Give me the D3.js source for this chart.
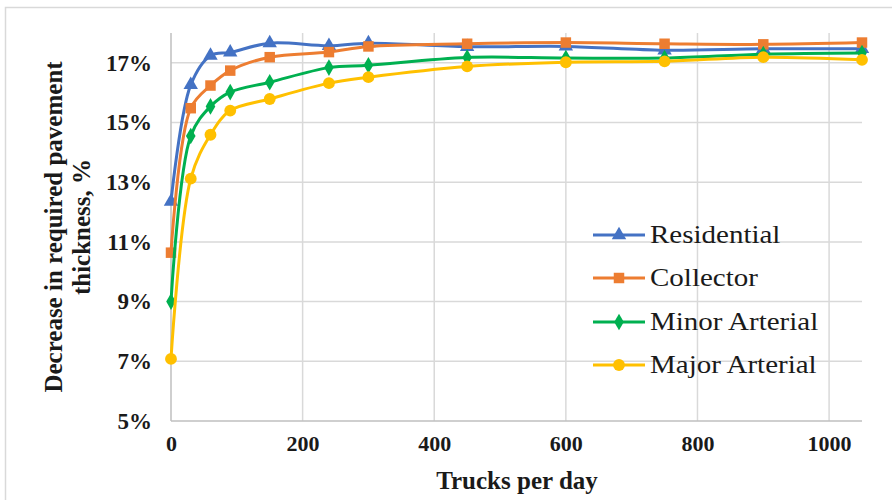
<!DOCTYPE html>
<html>
<head>
<meta charset="utf-8">
<script src="https://cdn.jsdelivr.net/npm/d3@7"></script>
<style>
  html, body { margin: 0; padding: 0; background: #fff; }
  svg { display: block; }
  text { font-family: "Liberation Serif", "Times New Roman", serif; }
</style>
</head>
<body>
<svg id="chart" width="892" height="500"></svg>
<script>
// ---- data ----
const trucks = [0, 30, 60, 90, 150, 240, 300, 450, 600, 750, 900, 1050];
const seriesNames = ["Residential", "Collector", "Minor Arterial", "Major Arterial"];
const residential   = [12.35, 16.26, 17.24, 17.35, 17.66, 17.57, 17.66, 17.54, 17.55, 17.42, 17.47, 17.47];
const collector     = [10.64, 15.48, 16.24, 16.74, 17.19, 17.36, 17.55, 17.64, 17.68, 17.64, 17.62, 17.68];
const minorArterial = [9.00, 14.55, 15.54, 16.02, 16.35, 16.84, 16.92, 17.18, 17.16, 17.16, 17.29, 17.33];
const majorArterial = [7.08, 13.12, 14.59, 15.40, 15.79, 16.32, 16.52, 16.88, 17.02, 17.05, 17.19, 17.10];
const yTicks = [5, 7, 9, 11, 13, 15, 17];
const xTicks = [0, 200, 400, 600, 800, 1000];

const allValues = [residential, collector, minorArterial, majorArterial];
const colors = ["#4472C4", "#ED7D31", "#00B050", "#FFC000"];
const markers = [d3.symbolTriangle, d3.symbolSquare, d3.symbolDiamond, d3.symbolCircle];
const markerSizes = [90, 110, 80, 110];

const svg = d3.select("#chart");

// chart border
svg.append("rect").attr("x", 5.5).attr("y", 7.5).attr("width", 920).attr("height", 520)
  .attr("fill", "none").attr("stroke", "#d9d9d9").attr("stroke-width", 1.5);

const x = d3.scaleLinear().domain([0, 1050]).range([171, 862]);
const y = d3.scaleLinear().domain([5, 18]).range([421, 33]);

// gridlines
svg.append("g").selectAll("line.h").data(yTicks.slice(1)).join("line")
  .attr("x1", x(0)).attr("x2", x(1050)).attr("y1", d => y(d)).attr("y2", d => y(d))
  .attr("stroke", "#d9d9d9").attr("stroke-width", 1.5);
svg.append("g").selectAll("line.v").data(xTicks.slice(1)).join("line")
  .attr("x1", d => x(d)).attr("x2", d => x(d)).attr("y1", y(5)).attr("y2", y(18))
  .attr("stroke", "#d9d9d9").attr("stroke-width", 1.5);

// axes lines
svg.append("line").attr("x1", x(0)).attr("x2", x(0)).attr("y1", y(5)).attr("y2", y(18))
  .attr("stroke", "#bfbfbf").attr("stroke-width", 1.5);
svg.append("line").attr("x1", x(0)).attr("x2", x(1050)).attr("y1", y(5)).attr("y2", y(5))
  .attr("stroke", "#bfbfbf").attr("stroke-width", 1.5);

// tick labels
const yAxis = d3.axisLeft(y).tickValues(yTicks).tickFormat(d => d + "%").tickSize(0).tickPadding(19);
const gy = svg.append("g").attr("transform", `translate(${x(0)},0)`).call(yAxis);
gy.select(".domain").remove();
gy.selectAll("text").attr("font-family", "Liberation Serif").attr("font-weight", "bold")
  .attr("font-size", 23).attr("fill", "#1a1a1a");

const xAxis = d3.axisBottom(x).tickValues(xTicks).tickFormat(d3.format("d")).tickSize(0).tickPadding(14);
const gx = svg.append("g").attr("transform", `translate(0,${y(5)})`).call(xAxis);
gx.select(".domain").remove();
gx.selectAll("text").attr("font-family", "Liberation Serif").attr("font-weight", "bold")
  .attr("font-size", 22).attr("fill", "#1a1a1a");

// axis titles
svg.append("text").attr("x", 517).attr("y", 489).attr("text-anchor", "middle")
  .attr("font-family", "Liberation Serif").attr("font-weight", "bold").attr("font-size", 25)
  .attr("fill", "#1a1a1a").text("Trucks per day");
const yt = svg.append("text").attr("transform", "translate(0,227) rotate(-90)")
  .attr("text-anchor", "middle").attr("font-family", "Liberation Serif").attr("font-weight", "bold")
  .attr("font-size", 25).attr("fill", "#1a1a1a");
yt.append("tspan").attr("x", 0).attr("y", 62).text("Decrease in required pavement");
yt.append("tspan").attr("x", 0).attr("y", 90).text("thickness, %");

// lines
const line = d3.line().x((d, i) => x(trucks[i])).y(d => y(d)).curve(d3.curveCatmullRom.alpha(0.5));
allValues.forEach((vals, k) => {
  svg.append("path").datum(vals).attr("d", line).attr("fill", "none")
    .attr("stroke", colors[k]).attr("stroke-width", 3);
  svg.append("g").selectAll("path").data(vals).join("path")
    .attr("transform", (d, i) => `translate(${x(trucks[i])},${y(d)})`)
    .attr("d", d3.symbol().type(markers[k]).size(markerSizes[k]))
    .attr("fill", colors[k]);
});

// legend
const legY = [235, 278, 322, 365];
seriesNames.forEach((name, k) => {
  const g = svg.append("g").attr("transform", `translate(0,${legY[k]})`);
  g.append("line").attr("x1", 593).attr("x2", 645).attr("y1", 0).attr("y2", 0)
    .attr("stroke", colors[k]).attr("stroke-width", 3);
  g.append("path").attr("transform", "translate(619,0)")
    .attr("d", d3.symbol().type(markers[k]).size(markerSizes[k])).attr("fill", colors[k]);
  g.append("text").attr("transform", "translate(650,8) scale(1.16,1)")
    .attr("font-family", "Liberation Serif")
    .attr("font-size", 25).attr("fill", "#1a1a1a").text(name);
});
</script>
</body>
</html>
